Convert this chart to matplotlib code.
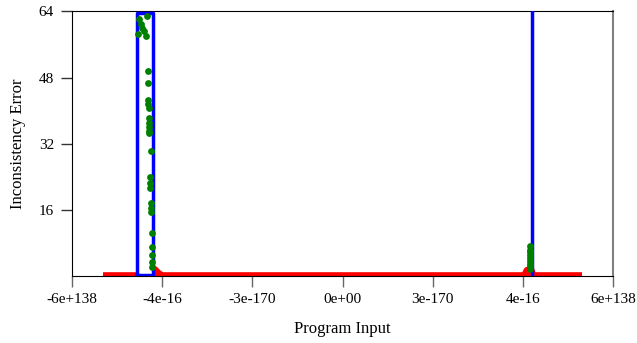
import numpy as np
import matplotlib
matplotlib.use("Agg")
import matplotlib.pyplot as plt

plt.rcParams['font.family'] = ['Liberation Serif', 'DejaVu Serif']

# x positions are in ordinal-float units (one unit per tick)
tick_labels = ['-6e+138', '-4e-16', '-3e-170', '0e+00', '3e-170', '4e-16', '6e+138']
y_ticks = [16, 32, 48, 64]

# red series (the line that hugs zero)
red_x = [0.344, 0.722, np.nan, 0.890, 0.915, 0.960, 1.000, 5.020, 5.050, 5.090, 5.110, 5.656]
red_y = [0.0, 0.0, np.nan, 1.5, 1.5, 0.5, 0.0, 0.0, 1.3, 1.3, 0.0, 0.0]

# blue series (zero stretches sit under the red line)
blue_x = [0.725, 0.725, 0.898, 0.898, 0.725, np.nan, 5.100, 5.100]
blue_y = [0.2, 63.6, 63.6, 0.2, 0.2, np.nan, 0.0, 70.0]

# green sample points
green_x = [0.828, 0.742, 0.760, 0.780, 0.800, 0.728, 0.820,
           0.838, 0.845, 0.845, 0.848, 0.850, 0.852, 0.852, 0.853, 0.854, 0.854,
           0.872, 0.866, 0.868, 0.870, 0.876, 0.878, 0.880,
           0.888, 0.886, 0.890, 0.892, 0.892,
           5.080, 5.080, 5.080, 5.080, 5.080, 5.080, 5.080, 5.080, 5.080]
green_y = [63.0, 62.2, 61.0, 60.0, 59.2, 58.5, 58.0,
           49.6, 46.7, 42.5, 41.5, 40.7, 38.3, 37.0, 36.0, 35.2, 34.5,
           30.3, 24.0, 22.6, 21.2, 17.6, 16.4, 15.4,
           10.4, 7.1, 5.0, 3.5, 2.2,
           7.2, 6.4, 5.7, 5.0, 4.3, 3.6, 2.9, 2.3, 1.7]

fig = plt.figure(figsize=(6.37, 3.43), dpi=100)
ax = fig.add_axes([72 / 637, 1 - 276 / 343, 541 / 637, 264.5 / 343])

ax.plot(red_x, red_y, color='#ff0000', linewidth=5.5, solid_capstyle='butt', zorder=2)
ax.plot(blue_x, blue_y, color='#0000ff', linewidth=2.5, zorder=3)
ax.scatter(green_x, green_y, s=24, color='#008000', linewidths=0, zorder=4)

ax.set_xlim(0, 6)
ax.set_ylim(0, 64)
ax.set_xticks(range(7))
ax.set_xticklabels(tick_labels)
ax.set_yticks(y_ticks)

ax.tick_params(axis='x', length=8, width=1, color='#666666', pad=4, labelsize=11)
ax.tick_params(axis='y', length=8, width=1, color='#333333', pad=5, labelsize=11)

for side in ['left', 'top', 'bottom']:
    ax.spines[side].set_color('black')
ax.spines['right'].set_color('#808080')
ax.spines['right'].set_linewidth(1.5)

ax.set_xlabel('Program Input', fontsize=12, labelpad=11)
ax.set_ylabel('Inconsistency Error', fontsize=12, labelpad=9)

fig.savefig('out.png', dpi=100)
